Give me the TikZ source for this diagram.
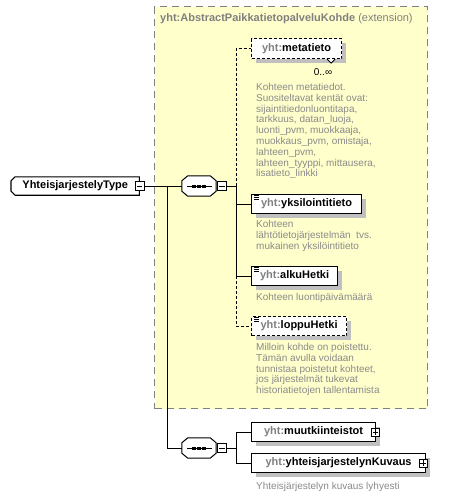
\documentclass[tikz,border=0pt]{standalone}
\usepackage{fontspec}
\setmainfont{Liberation Sans}
\usetikzlibrary{shadows,calc}
\definecolor{ybg}{HTML}{FFFFCC}
\definecolor{ybd}{HTML}{808080}
\definecolor{shd}{HTML}{C0C0C0}
\definecolor{dtxt}{HTML}{8A8A8A}
\begin{document}
\begin{tikzpicture}[x=1pt,y=-1pt,
  sh/.style={general shadow={fill=shd, shadow xshift=4pt, shadow yshift=-4pt}},
  elem/.style={draw=black, line width=1.1pt, fill=white, anchor=north west, inner sep=0pt,
    minimum height=19pt, font=\fontsize{11}{13}\selectfont\bfseries, sh},
  optelem/.style={elem, dash pattern=on 3pt off 2pt},
  desc/.style={font=\fontsize{10}{10.8}\selectfont, text=dtxt, align=left, anchor=north west, inner sep=0pt},
  sgn/.style={draw=black, fill=white, line width=0.6pt, minimum size=9pt, inner sep=0pt},
  comp/.style={rectangle, minimum width=34pt, minimum height=20pt, inner sep=0pt},
  typebox/.style={rectangle, minimum width=128pt, minimum height=18pt, inner sep=0pt,
    font=\fontsize{11}{13}\selectfont\bfseries},
  conn/.style={line width=1pt, draw=black},
  optconn/.style={conn, dash pattern=on 3pt off 2pt}
]
\useasboundingbox (0,0) rectangle (470,497);
% extension box
\node[draw=ybd, fill=ybg, line width=1.2pt, dash pattern=on 7pt off 5pt, anchor=north west,
  minimum width=273pt, minimum height=402pt, inner sep=0pt] (ext) at (154,6) {};
\node[anchor=west, inner sep=0pt, text=ybd, font=\fontsize{11}{13}\selectfont] (ttl) at (160,19)
  {\textbf{yht:AbstractPaikkatietopalveluKohde} (extension)};

% main type
\node[typebox, anchor=west] (T) at (11,186) {\phantom{YhteisjarjestelyType\hspace{11pt}}};
\fill[shd, shift={(4,4)}] ($(T.north west)+(4,0)$) -- (T.north east) -- (T.south east)
  -- ($(T.south west)+(4,0)$) -- ($(T.south west)+(0,-4)$) -- ($(T.north west)+(0,4)$) -- cycle;
\draw[line width=1.1pt, fill=white] ($(T.north west)+(4,0)$) -- (T.north east) -- (T.south east)
  -- ($(T.south west)+(4,0)$) -- ($(T.south west)+(0,-4)$) -- ($(T.north west)+(0,4)$) -- cycle;
\node[typebox, anchor=west] (Tt) at (T.west) {YhteisjarjestelyType\hspace{11pt}};
\node[sgn] (TM) at (T.east) {};
\draw[line width=0.6pt] ([xshift=2pt]TM.west) -- ([xshift=-2pt]TM.east);

% compositors
\node[comp] (C1) at (199,186) {};
\node[comp] (C2) at (199,448) {};
\foreach \c in {C1,C2}{
  \fill[shd, shift={(4,4)}] ($(\c.north west)+(6,0)$) -- ($(\c.north east)+(-6,0)$) -- ($(\c.north east)+(0,5)$)
    -- ($(\c.south east)+(0,-5)$) -- ($(\c.south east)+(-6,0)$) -- ($(\c.south west)+(6,0)$)
    -- ($(\c.south west)+(0,-5)$) -- ($(\c.north west)+(0,5)$) -- cycle;
  \draw[line width=1pt, fill=white] ($(\c.north west)+(6,0)$) -- ($(\c.north east)+(-6,0)$) -- ($(\c.north east)+(0,5)$)
    -- ($(\c.south east)+(0,-5)$) -- ($(\c.south east)+(-6,0)$) -- ($(\c.south west)+(6,0)$)
    -- ($(\c.south west)+(0,-5)$) -- ($(\c.north west)+(0,5)$) -- cycle;
  \draw[line width=1pt] ($(\c.center)+(-12,0)$) -- ($(\c.center)+(13,0)$);
  \foreach \dx in {-7,-2,3}
    \fill ($(\c.center)+(\dx,-1.5)$) rectangle +(3.5,3.5);
}
\node[sgn, anchor=west] (C1M) at ([xshift=1pt]C1.east) {};
\draw[line width=0.6pt] ([xshift=2pt]C1M.west) -- ([xshift=-2pt]C1M.east);
\node[sgn, anchor=west] (C2M) at ([xshift=1pt]C2.east) {};
\draw[line width=0.6pt] ([xshift=2pt]C2M.west) -- ([xshift=-2pt]C2M.east);

% elements
\node[optelem, minimum width=90pt, minimum height=20pt] (E1) at (251,38) {{\color{ybd}yht:}metatieto};
\node[elem, minimum width=110pt] (E2) at (251,194) {{\color{ybd}yht:}yksilointitieto};
\node[elem, minimum width=86pt] (E3) at (251,266) {{\color{ybd}yht:}alkuHetki};
\node[optelem, minimum width=95pt] (E4) at (251,316) {{\color{ybd}yht:}loppuHetki};
\node[elem, minimum width=124pt] (E5) at (251,422) {{\color{ybd}yht:}muutkiinteistot\hspace{10pt}};
\node[elem, minimum width=174pt] (E6) at (251,453) {{\color{ybd}yht:}yhteisjarjestelynKuvaus\hspace{10pt}};

% icons
\foreach \n in {E2,E3,E4}{
  \foreach \dy in {1.5,3.2,4.9}
    \draw[line width=0.7pt] ($(\n.north west)+(3,\dy)$) -- +(5,0);
}
% plus boxes
\node[sgn, minimum size=8pt] (E5P) at ([xshift=-0.5pt]E5.east) {};
\node[sgn, minimum size=8pt] (E6P) at ([xshift=-3pt]E6.east) {};
\foreach \p in {E5P,E6P}{
  \draw[line width=0.6pt] ([xshift=1.5pt]\p.west) -- ([xshift=-1.5pt]\p.east);
  \draw[line width=0.6pt] ([yshift=1.5pt]\p.south) -- ([yshift=-1.5pt]\p.north);
}
% multiplicity notch
\draw[line width=0.8pt, fill=white] ($(E1.south east)+(-15,0)$) -- +(4,4) -- +(8,0);
\node[inner sep=0pt, font=\fontsize{10}{12}\selectfont] (mult) at (323,72) {0..∞};

% descriptions
\node[desc] (D1) at (256,83) {Kohteen metatiedot.\\Suositeltavat kentät ovat:\\sijaintitiedonluontitapa,\\tarkkuus, datan\_luoja,\\luonti\_pvm, muokkaaja,\\muokkaus\_pvm, omistaja,\\lahteen\_pvm,\\lahteen\_tyyppi, mittausera,\\lisatieto\_linkki};
\node[desc] (D2) at (256,220) {Kohteen\\lähtötietojärjestelmän\ \ tvs.\\mukainen yksilöintitieto};
\node[desc] (D3) at (256,293) {Kohteen luontipäivämäärä};
\node[desc] (D4) at (256,343) {Milloin kohde on poistettu.\\Tämän avulla voidaan\\tunnistaa poistetut kohteet,\\jos järjestelmät tukevat\\historiatietojen tallentamista};
\node[desc] (D6) at (256,482) {Yhteisjärjestelyn kuvaus lyhyesti};

% connectors
\coordinate (J) at (167,186);
\coordinate (B1) at (236,186);
\coordinate (B2) at (236,448);
\draw[conn] (TM.east) -- (C1.west);
\draw[conn] (J) |- (C2.west);
\draw[conn] (C1M.east) -- (B1);
\draw[optconn] (B1) |- (E1.west);
\draw[conn] (B1) |- (E2.west);
\draw[conn] (B1) |- (E3.west);
\draw[optconn] (E3.west -| B1) |- (E4.west);
\draw[conn] (C2M.east) -- (B2);
\draw[conn] (B2) |- (E5.west);
\draw[conn] (B2) |- (E6.west);
\end{tikzpicture}
\end{document}
